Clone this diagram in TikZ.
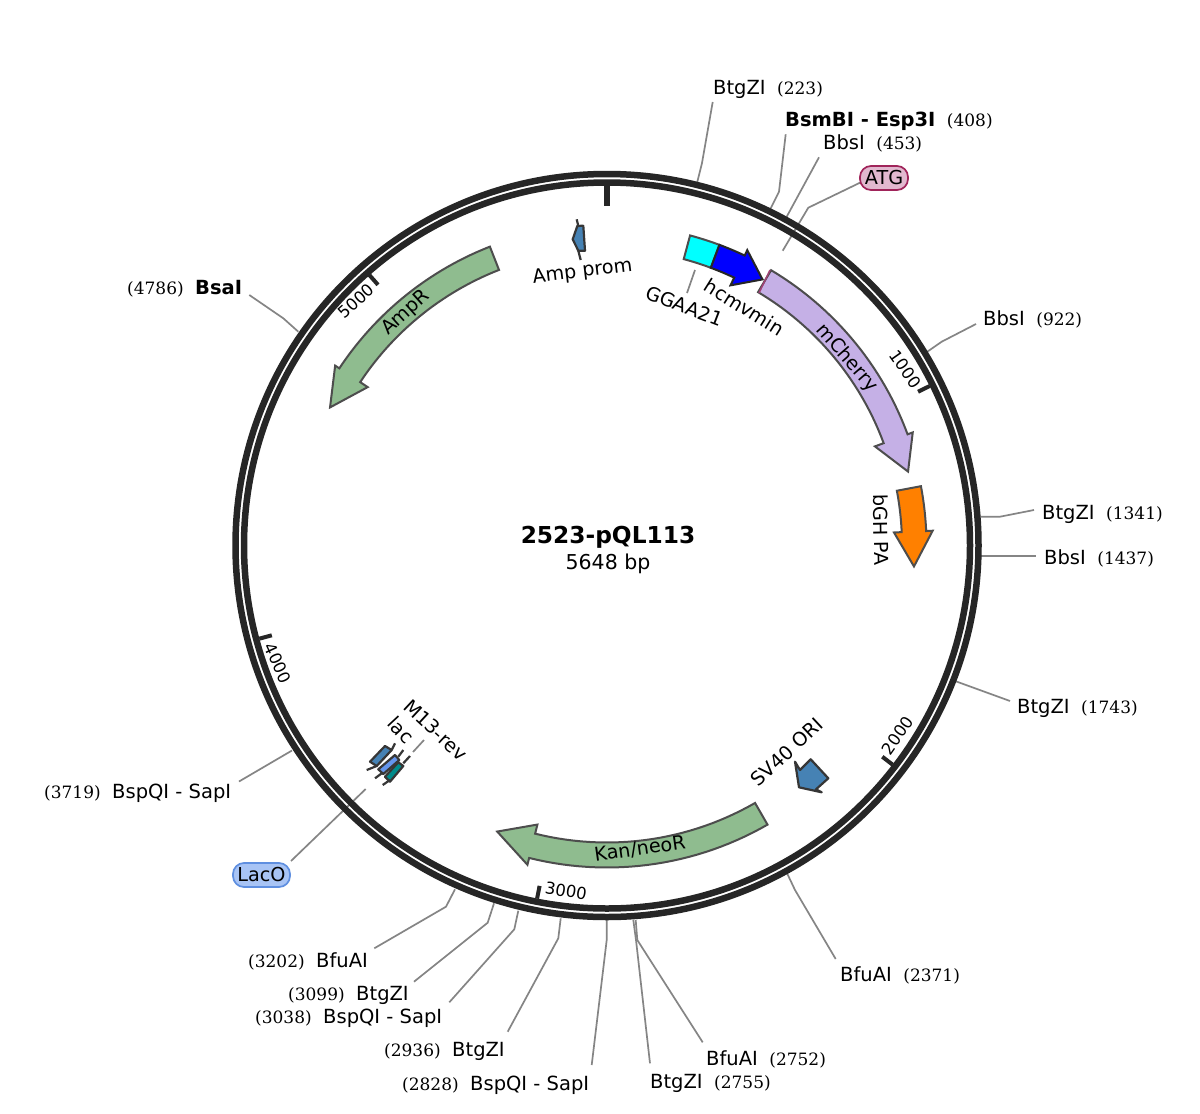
\documentclass[tikz,border=0pt]{standalone}
\usepackage{fontspec}
\setmainfont{DejaVu Sans}
\newfontfamily\numfont{DejaVu Serif}
\definecolor{ringc}{HTML}{262626}
\definecolor{leadc}{HTML}{858585}
\definecolor{edgec}{HTML}{4D4D4D}
\definecolor{greenf}{HTML}{8FBC8F}
\definecolor{lilacf}{HTML}{C5B0E6}
\definecolor{steelf}{HTML}{4682B4}
\definecolor{cornf}{HTML}{6495ED}
\definecolor{tealf}{HTML}{008B8B}
\definecolor{cyanf}{HTML}{00FFFF}
\definecolor{bluef}{HTML}{0000FF}
\definecolor{orangef}{HTML}{FF8000}
% style, r inner, r outer, start angle, head-base angle, tip angle, head inner, head outer, tip radius
\newcommand\feat[9]{\filldraw[featbase,#1] plot[domain=#4:#5,samples=30] ({607+#2*cos(\x-90)},{545.5+#2*sin(\x-90)})
 -- ({607+#7*cos(#5-90)},{545.5+#7*sin(#5-90)}) -- ({607+#9*cos(#6-90)},{545.5+#9*sin(#6-90)}) -- ({607+#8*cos(#5-90)},{545.5+#8*sin(#5-90)})
 -- plot[domain=#5:#4,samples=30] ({607+#3*cos(\x-90)},{545.5+#3*sin(\x-90)}) -- cycle;}
\newcommand\leadtwo[5]{\coordinate (#1a) at (#2,#3); \coordinate (#1b) at (#4,#5); \draw[leader] (#1a) -- (#1b);}
\newcommand\leadthree[7]{\coordinate (#1a) at (#2,#3); \coordinate (#1b) at (#4,#5); \coordinate (#1c) at (#6,#7); \draw[leader] (#1a) -- (#1b) -- (#1c);}
\newcommand\sitelabel[5]{\node[sitelbl] (#1) at (#2,#3) {#4\hspace{11.5pt}{\numfont\fontsize{17}{20}\selectfont (#5)}};}
\newcommand\sitelabelL[5]{\node[sitelbl] (#1) at (#2,#3) {{\numfont\fontsize{17}{20}\selectfont (#5)}\hspace{11.5pt}#4};}
\newcommand\tickm[4]{\coordinate (#1a) at ({607+#3*cos(#2-90)},{545.5+#3*sin(#2-90)}); \coordinate (#1b) at ({607+360*cos(#2-90)},{545.5+360*sin(#2-90)}); \draw[tickmark,line width=#4pt] (#1a) -- (#1b);}
\tikzset{x=1pt,y=-1pt,
 featbase/.style={draw=edgec,line width=2pt,line join=miter},
 tiny/.style={draw=edgec!70!black,line width=2.2pt,line join=round},
 leader/.style={draw=leadc,line width=1.7pt},
 tickmark/.style={draw=ringc},
 sitelbl/.style={anchor=base west,inner sep=0pt,font=\fontsize{19.5}{22}\selectfont},
 featlbl/.style={inner sep=0pt,font=\fontsize{19.2}{22}\selectfont},
 ticklbl/.style={inner sep=0pt,font=\fontsize{16.5}{20}\selectfont},
 pill/.style={rounded corners=11pt,line width=1.7pt,inner sep=0pt,minimum height=24pt,font=\fontsize{19.2}{22}\selectfont}}
\begin{document}
\begin{tikzpicture}
\useasboundingbox (0,0) rectangle (1200,1114);
\fill[white] (0,0) rectangle (1200,1114);
% leaders
\leadthree{lA}{697.3}{182}{702}{163}{712.7}{102}
\leadthree{lB}{770.7}{208.3}{779}{191.7}{785.7}{134.3}
\leadtwo{lC}{786.7}{216.7}{819}{157.3}
\leadthree{lD}{782.7}{250.7}{808.3}{207.7}{860}{182.7}
\leadthree{lE}{927.3}{351.7}{941.7}{341.7}{976}{324}
\leadthree{lF}{980.7}{516.7}{1000}{516.7}{1034}{510}
\leadtwo{lG}{980.7}{556}{1036}{556}
\leadtwo{lH}{955}{681}{1010}{701}
\leadthree{lI}{786}{871}{795}{890}{835.7}{959}
\leadthree{lJ}{635.7}{920}{637.3}{940}{702.7}{1042.3}
\leadthree{lK}{633.3}{920}{636}{940}{650}{1063.3}
\leadthree{lL}{606.7}{920}{606.7}{940}{591.7}{1065}
\leadthree{lM}{560.7}{918.3}{558.3}{938.3}{507.7}{1031.7}
\leadthree{lN}{518.3}{910.7}{514.3}{929.3}{449.3}{1002.3}
\leadthree{lO}{494}{903.3}{487.7}{922.7}{414}{981.7}
\leadthree{lP}{455}{889.3}{446}{906.7}{374.3}{948.3}
\leadtwo{lQ}{365.7}{789}{291}{861}
\leadtwo{lR}{292}{750.5}{239}{781.5}
\leadthree{lS}{298.3}{331.7}{283.3}{318.3}{249.3}{295}
\leadtwo{lU}{424}{740}{413}{752}
\leadtwo{lV}{695}{270}{687}{293}
% ring
\coordinate (cc) at (607,545.5);
\draw[ringc,line width=6.5pt] (cc) circle[radius=371.5];
\draw[ringc,line width=6.5pt] (cc) circle[radius=363];
% ticks
\tickm{t0}{0}{340}{5.5}\tickm{t1}{63.7}{347}{4}\tickm{t2}{127.5}{347}{4}\tickm{t3}{191.2}{347}{4}\tickm{t4}{255}{347}{4}\tickm{t5}{318.7}{347}{4}
\node[ticklbl,rotate=-55] (n1k) at (905,369) {1000};
\node[ticklbl,rotate=55] (n2k) at (898,735.5) {2000};
\node[ticklbl,rotate=-9] (n3k) at (566,891) {3000};
\node[ticklbl,rotate=-65] (n4k) at (278,663) {4000};
\node[ticklbl,rotate=42] (n5k) at (356,301) {5000};
% features
\feat{fill=lilacf}{295}{320.5}{30.8}{69.7}{76.2}{285.7}{326}{310}
\draw[draw=magenta!60!black,line width=1.5pt] (759,293) -- (770,270);
\feat{fill=orangef}{295}{319.5}{79.3}{87.4}{93.9}{287.3}{326}{307.7}
\feat{fill=greenf}{296}{321}{-21.4}{-56.5}{-63.5}{287}{326}{309.5}
\feat{fill=greenf}{297}{322}{150.1}{194}{201}{287.6}{329}{306.4}
\filldraw[featbase,fill=cyanf] plot[domain=15:20.5,samples=8] ({607+321*cos(\x-90)},{545.5+321*sin(\x-90)}) -- plot[domain=20.5:15,samples=8] ({607+296.5*cos(\x-90)},{545.5+296.5*sin(\x-90)}) -- cycle;
\feat{fill=bluef,draw=black!85}{296.5}{321}{20.5}{25.4}{30.3}{288}{327}{308.2}
% small features
\filldraw[tiny,fill=steelf] (577.3,226) -- (583.3,225.7) -- (585,250.7) -- (578.3,250.7) -- (572.7,239.3) -- cycle;
\draw[tiny] (576.7,219.3) -- (578.3,226) (578.3,250.7) -- (580.7,260);
\filldraw[tiny,fill=steelf] (795,761.7) -- (800,770) -- (810.7,759.3) -- (828.3,778.3) -- (816,789.3) -- (821.7,792.3) -- (799,787.3) -- cycle;
\filldraw[tiny,fill=steelf] (370,761.7) -- (385,746) -- (391.7,750) -- (376.7,766) -- cycle;
\draw[tiny] (395,743.3) -- (391.7,750) (366.7,770) -- (376.7,766);
\filldraw[tiny,fill=cornf] (378.3,769.3) -- (395,755) -- (399.3,760) -- (383.3,774) -- cycle;
\draw[tiny] (403.3,750) -- (398.3,756.7) (375,778.3) -- (381.7,773.3);
\filldraw[tiny,fill=tealf] (385,776.7) -- (398.3,762.3) -- (403.3,766) -- (390,781.7) -- cycle;
\draw[tiny] (410,756) -- (403.3,763.3) (382.7,785) -- (390,780);
% feature labels
\node[featlbl,rotate=-49] (lmc) at (847,358) {mCherry};
\node[featlbl,rotate=42] (lamp) at (406,313) {AmpR};
\node[featlbl,rotate=8] (lkan) at (640,849) {Kan/neoR};
\node[featlbl,rotate=-89] (lbgh) at (881,529.5) {bGH PA};
\node[featlbl,rotate=-32] (lhc) at (744.5,307.5) {hcmvmin};
\node[featlbl,rotate=-21] (lgg) at (684.5,306) {GGAA21};
\node[featlbl,rotate=7] (lap) at (582.5,272) {Amp prom};
\node[featlbl,rotate=43] (lsv) at (787,752) {SV40 ORI};
\node[featlbl,rotate=-43] (lm13) at (435.5,730) {M13-rev};
\node[featlbl,rotate=-47] (llac) at (401,730) {lac};
% centre
\node[inner sep=0pt,font=\bfseries\fontsize{23.3}{28}\selectfont] (ctitle) at (608,537.5) {2523-pQL113};
\node[inner sep=0pt,font=\fontsize{20.5}{24}\selectfont] (csize) at (608,563.5) {5648 bp};
% pills
\node[pill,draw={rgb,255:red,160;green,36;blue,90},fill={rgb,255:red,226;green,184;blue,207},minimum width=48pt] (patg) at (884,178) {ATG};
\node[pill,draw={rgb,255:red,95;green,143;blue,224},fill={rgb,255:red,168;green,196;blue,245},minimum width=57pt] (placo) at (261.5,875) {LacO};
% site labels
\sitelabel{sA}{713}{94}{BtgZI}{223}
\sitelabel{sB}{785}{126}{\textbf{BsmBI - Esp3I}}{408}
\sitelabel{sC}{823}{149}{BbsI}{453}
\sitelabel{sE}{983}{325}{BbsI}{922}
\sitelabel{sF}{1042}{519}{BtgZI}{1341}
\sitelabel{sG}{1044}{564}{BbsI}{1437}
\sitelabel{sH}{1017}{713}{BtgZI}{1743}
\sitelabel{sI}{840}{981}{BfuAI}{2371}
\sitelabel{sJ}{706}{1065}{BfuAI}{2752}
\sitelabel{sK}{650}{1088}{BtgZI}{2755}
\sitelabelL{sL}{402}{1090}{BspQI - SapI}{2828}
\sitelabelL{sM}{384}{1056}{BtgZI}{2936}
\sitelabelL{sN}{255}{1023}{BspQI - SapI}{3038}
\sitelabelL{sO}{288}{1000}{BtgZI}{3099}
\sitelabelL{sP}{248}{967}{BfuAI}{3202}
\sitelabelL{sR}{44}{798}{BspQI - SapI}{3719}
\sitelabelL{sS}{127}{294}{\textbf{BsaI}}{4786}
\end{tikzpicture}
\end{document}
